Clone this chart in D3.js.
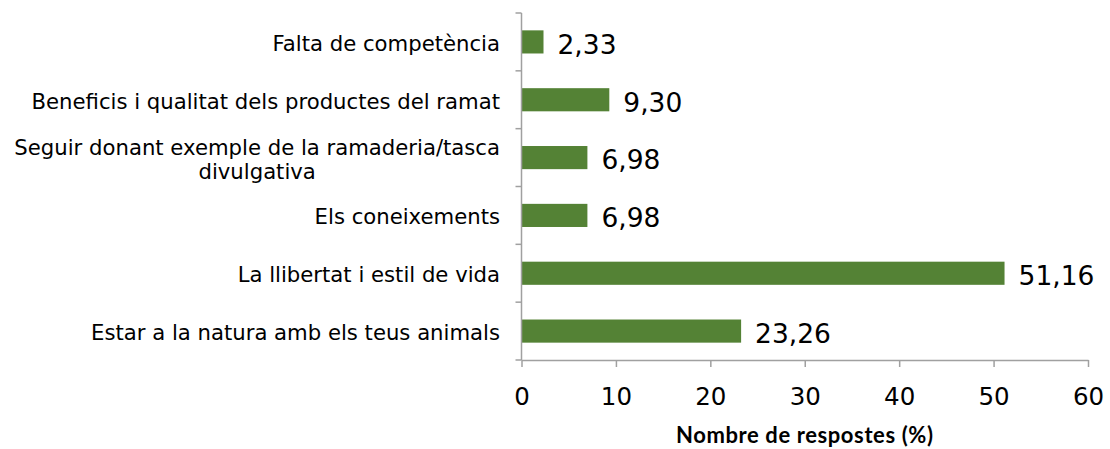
<!DOCTYPE html>
<html>
<head>
<meta charset="utf-8">
<script src="https://cdn.jsdelivr.net/npm/d3@7"></script>
<style>
  body { margin: 0; background: #fff; }
  svg { display: block; }
</style>
</head>
<body>
<script>
// categories from top to bottom, with line breaks as in the original
const categories = [
  ['Falta de competència'],
  ['Beneficis i qualitat dels productes del ramat'],
  ['Seguir donant exemple de la ramaderia/tasca', 'divulgativa'],
  ['Els coneixements'],
  ['La llibertat i estil de vida'],
  ['Estar a la natura amb els teus animals']
];
const values = [2.33, 9.30, 6.98, 6.98, 51.16, 23.26];
const xTicks = [0, 10, 20, 30, 40, 50, 60];
const xTitle = 'Nombre de respostes (%)';

const width = 1110;
const height = 449;
const plotLeft = 521.5, plotRight = 1088, plotTop = 13, plotBottom = 360;
const sans = '"DejaVu Sans", Verdana, sans-serif';

const svg = d3.select('body')
  .append('svg')
  .attr('width', width)
  .attr('height', height);

const xScale = d3.scaleLinear()
  .domain([0, 60])
  .range([plotLeft, plotRight]);

const yScale = d3.scaleBand()
  .domain(d3.range(categories.length))
  .range([plotTop, plotBottom]);

const bh = yScale.bandwidth() * 0.4;
const fmt = v => v.toFixed(2).replace('.', ',');

// bars
svg.selectAll('rect.bar')
  .data(values)
  .enter()
  .append('rect')
  .attr('class', 'bar')
  .attr('x', xScale(0))
  .attr('y', (d, i) => yScale(i) + yScale.bandwidth() / 2 - bh / 2)
  .attr('width', d => xScale(d) - xScale(0))
  .attr('height', bh)
  .attr('fill', '#548235');

// value labels
svg.selectAll('text.val')
  .data(values)
  .enter()
  .append('text')
  .attr('class', 'val')
  .attr('x', d => xScale(d) + 14)
  .attr('y', (d, i) => yScale(i) + yScale.bandwidth() / 2 + 2.5)
  .attr('dy', '0.35em')
  .style('font-family', sans)
  .style('font-size', '26.5px')
  .attr('fill', '#000')
  .text(fmt);

// x axis
const xAxis = d3.axisBottom(xScale)
  .tickValues(xTicks)
  .tickSize(7)
  .tickSizeOuter(0);
const gx = svg.append('g')
  .attr('transform', `translate(0, ${plotBottom})`)
  .call(xAxis);
gx.select('.domain').attr('stroke', '#a0a0a0').attr('stroke-width', 1.5);
gx.selectAll('.tick line').attr('stroke', '#a0a0a0').attr('stroke-width', 1.5);
gx.selectAll('.tick text')
  .attr('y', 45)
  .attr('dy', 0)
  .style('font-family', sans)
  .style('font-size', '24.5px')
  .attr('fill', '#000');

// y axis line and boundary ticks
svg.append('line')
  .attr('x1', plotLeft).attr('x2', plotLeft)
  .attr('y1', plotTop).attr('y2', plotBottom)
  .attr('stroke', '#a0a0a0').attr('stroke-width', 1.5);
svg.selectAll('line.ytick')
  .data(d3.range(categories.length + 1))
  .enter()
  .append('line')
  .attr('class', 'ytick')
  .attr('x1', plotLeft - 6).attr('x2', plotLeft)
  .attr('y1', i => i < categories.length ? yScale(i) : plotBottom)
  .attr('y2', i => i < categories.length ? yScale(i) : plotBottom)
  .attr('stroke', '#a0a0a0').attr('stroke-width', 1.5);

// category labels (multi-line labels centred on their widest line)
const labelRight = 500;
const lineH = 24;
categories.forEach((lines, i) => {
  const cy = yScale(i) + yScale.bandwidth() / 2 + 1.5;
  const t = svg.append('text')
    .style('font-family', sans)
    .style('font-size', '21.2px')
    .attr('fill', '#000');
  lines.forEach((s, k) => {
    t.append('tspan')
      .attr('y', cy + (k - (lines.length - 1) / 2) * lineH)
      .attr('dy', '0.35em')
      .text(s);
  });
  if (lines.length === 1) {
    t.attr('text-anchor', 'end').selectAll('tspan').attr('x', labelRight);
  } else {
    const w = d3.max(t.selectAll('tspan').nodes(), n => n.getComputedTextLength());
    t.attr('text-anchor', 'middle').selectAll('tspan').attr('x', labelRight - w / 2);
  }
});

// axis title
svg.append('text')
  .attr('x', (plotLeft + plotRight) / 2)
  .attr('y', 443)
  .attr('text-anchor', 'middle')
  .style('font-family', 'Lato, "Open Sans", sans-serif')
  .style('font-size', '22px')
  .style('font-weight', 'bold')
  .style('letter-spacing', '0.6px')
  .attr('fill', '#000')
  .text(xTitle);
</script>
</body>
</html>
